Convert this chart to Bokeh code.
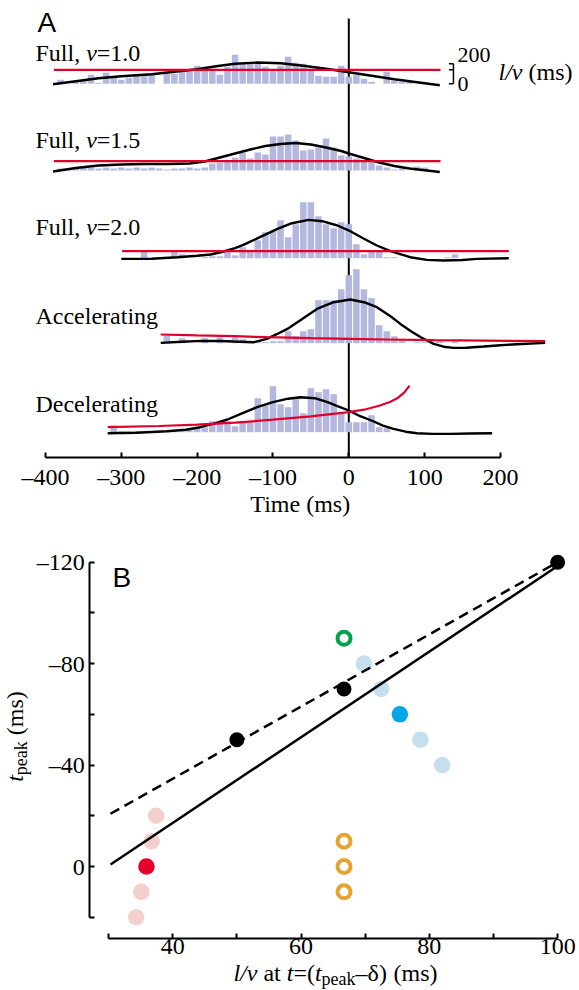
import numpy as np
from bokeh.plotting import figure
from bokeh.models import Range1d, FixedTicker, CustomJSTickFormatter
from bokeh.layouts import column
from bokeh.embed import file_html
from bokeh.resources import INLINE
from bokeh.core.properties import value

SERIF = "Liberation Serif"
SANS = "Liberation Sans"
BAR = "#b5b8de"
RED = "#e1002a"

# ---------------- Panel A data ----------------
bin_width = 10  # ms
hist1_first = -380
hist1 = [4, 0, 2, 4, 9, 1, 11, 6, 4, 6, 10, 10, 10, 0, 12, 10, 12, 13, 18, 17,
         15, 9, 17, 29, 20, 20, 20, 17, 14, 18, 27, 21, 20, 15, 8, 7, 7, 18, 7, 9,
         5, 2, 0, 12, 3, 2, 2]
hist2_first = -380
hist2 = [2, 2, 2, 3, 3, 2, 3, 2, 3, 2, 3, 2, 3, 2, 1, 2, 2, 3, 2,
         3, 7, 8, 10, 13, 18, 12, 18, 16, 34, 34, 36, 30, 20, 21, 23, 32, 23, 15, 14,
         12, 10, 9, 5, 3, 1, 2, 0, 4, 3]
hist3_first = -290
hist3 = [0, 0, 8, 0, 0, 0, 8, 4, 0, 0, 1, 2, 2, 6, 3, 11, 7, 18, 26, 27,
         38, 21, 34, 56, 56, 42, 34, 30, 36, 34, 14, 4, 8, 8, 1, 1, 0, 0, 0, 0,
         0, 0, 1, 4, 0]
hist4_first = -250
hist4 = [0, 8, 0, 5, 0, 0, 5, 0, 6, 0, 6, 4, 2, 2, 1, 2, 2, 12, 7, 12,
         14, 43, 43, 43, 54, 68, 74, 54, 45, 18, 12, 7, 4, 0, 1, 1, 0, 2, 0, 2, 0]
hist5_first = -320
hist5 = [0, 7, 1, 1, 1, 1, 1, 1, 1, 1, 1, 2, 4, 5, 11, 10, 11, 6, 10, 11,
         34, 27, 46, 28, 25, 35, 19, 44, 40, 43, 38, 20, 10, 10, 10, 17, 5, 4, 0]

curve1_t = [-390, -360, -330, -300, -260, -230, -200, -175, -150, -120, -90, -60, -30, 0, 30, 60, 90, 120]
curve1_r = [-0.5, 2.5, 5.5, 7.5, 9.5, 12, 14.5, 17.5, 20, 21.3, 20.5, 18, 15, 11.5, 8, 4.5, 1.5, -1.5]
curve2_t = [-390, -360, -330, -300, -270, -240, -210, -190, -170, -150, -130, -110, -90, -70, -50, -30, -10, 0, 20, 40, 60, 80, 100, 120]
curve2_r = [-1, 2.5, 5, 6, 6.5, 6.5, 7, 9, 13, 17, 21, 24.5, 26.5, 27.5, 26, 23, 19.5, 17, 12.5, 8, 4.5, 2, 0.3, -1.5]
curve3_t = [-300, -260, -226, -200, -182, -165, -150, -139, -120, -94, -75, -53, -35, -15, 2, 20, 37, 55, 70, 81, 103, 125, 150, 169, 211]
curve3_r = [-0.7, -0.5, 1, 2.5, 3.7, 6.7, 10, 13.3, 20, 29.3, 35, 38.3, 37, 32.7, 27, 19.5, 12.7, 7, 3.5, 1, -1.7, -2.3, -1.8, -0.7, 0]
curve4_t = [-248, -220, -195, -170, -152, -125, -108, -95, -81, -60, -42, -20, 2, 20, 37, 55, 68, 82, 95, 112, 125, 138, 155, 178, 200, 222, 259]
curve4_r = [0.3, 1.5, 2.3, 2.2, 1.7, 1, 4.3, 9, 14.3, 25, 34.3, 41, 43.7, 41, 36, 27, 19.3, 12, 6, -0.7, -3.5, -4.7, -4.5, -3.3, -2, -1, 0.3]
curve5_t = [-318, -280, -240, -215, -196, -178, -160, -140, -121, -100, -80, -64, -45, -28, -15, 0, 15, 33, 45, 59, 75, 90, 110, 134, 160, 189]
curve5_r = [-1, -0.5, 1, 2.5, 5, 8.5, 12.7, 19, 25, 30, 33.5, 35, 34, 30, 26, 21.7, 16, 10.7, 6.5, 3.3, 0.5, -1, -1.7, -1.7, -1.3, -1]

# l/v (ms) along each trial
lv1_t = [-389, 121]
lv1 = [140, 140]
lv2_t = [-389, 121]
lv2 = [93.3, 93.3]
lv3_t = [-299, 211]
lv3 = [70, 70]
lv4_t = [-248, -200, -150, -108, -50, 0, 50, 112, 180, 259]
lv4 = [87, 78, 70, 60, 50, 43, 37, 30, 25, 20]
lv5_t = [-318, -250, -200, -150, -100, -50, 0, 20, 40, 55, 65, 73, 80]
lv5 = [50, 62, 75, 95, 125, 158, 200, 225, 265, 305, 345, 395, 465]

row_names = ["Full", "Full", "Full", "Accelerating", "Decelerating"]
row_speeds = ["1.0", "1.5", "2.0", None, None]
time_ticks = [-400, -300, -200, -100, 0, 100, 200]
scalebar_lv = [0, 200]

# ---------------- Panel B data ----------------
black_x = [50, 66.7, 100]
black_y = [-50, -70, -120]
green_x = [66.7]
green_y = [-90]
blue_x = [69.8, 72.5, 78.6, 82.0]
blue_y = [-80, -70, -50, -40]
blue_dark_x = [75.4]
blue_dark_y = [-60]
pink_x = [37.4, 36.7, 35.1, 34.3]
pink_y = [-20, -10, 10, 20]
red_x = [35.9]
red_y = [0]
orange_x = [66.7, 66.7, 66.7]
orange_y = [-10, 0, 10]
fit_solid_x = [30.3, 100]
fit_solid_y = [-0.8, -118.5]
fit_dash_x = [30.3, 100]
fit_dash_y = [-20.8, -120]
bx_ticks = [30, 40, 50, 60, 70, 80, 90, 100]
by_ticks = [-120, -100, -80, -60, -40, -20, 0, 20]

# ---------------- helpers ----------------
W_REG = {' ': 250, '(': 333, ')': 333, '=': 564, '\u2013': 500, '.': 250, ',': 250, '/': 278,
         'A': 722, 'D': 722, 'F': 556, 'T': 611, 'a': 444, 'c': 444, 'e': 444, 'g': 500,
         'i': 278, 'k': 500, 'l': 278, 'm': 778, 'n': 500, 'p': 500, 'r': 333, 's': 389,
         't': 278, 'u': 500, 'v': 500, '\u03b4': 500}
W_ITA = {'l': 278, '/': 278, 'v': 444, 't': 278}
MID_SERIF = 0.3375  # (ascent - descent) / 2, in em: baseline -> em-box middle
MID_SANS = 0.3465


def tw(s, italic, size):
    tab = W_ITA if italic else W_REG
    return sum(tab.get(c, W_REG.get(c, 500)) for c in s) * size / 1000.0


def lead(s, size):
    n = len(s) - len(s.lstrip(" "))
    return n * 250 * size / 1000.0


def style_axis(a):
    a.minor_tick_line_color = None
    a.major_tick_in = 5
    a.major_tick_out = 0
    a.axis_line_width = 2
    a.axis_line_color = "black"
    a.major_tick_line_width = 2
    a.major_tick_line_color = "black"
    a.major_label_text_font = SERIF
    a.major_label_text_font_size = "24px"
    a.major_label_text_color = "black"


# ---------------- Panel A ----------------
A_W, A_H = 579, 525
PXA = 0.7583    # px per ms
T0_PX = 348.3   # page x of t = 0
AXIS_PY = 457   # page y of time axis
pA = figure(width=A_W, height=A_H,
            x_range=Range1d(-T0_PX / PXA, (A_W - T0_PX) / PXA),
            y_range=Range1d(AXIS_PY - A_H, AXIS_PY),
            output_backend="svg", toolbar_location=None, y_axis_location=None,
            min_border_left=0, min_border_right=0, min_border_top=0, min_border_bottom=0)
pA.grid.visible = False
pA.outline_line_color = None
LV_SCALE = 0.1  # plot units per ms of l/v (200 ms scale bar)
row_base = [373.7, 287.0, 199.3, 114.3, 25.3]

pA.segment(x0=[0], y0=[0], x1=[0], y1=[439], line_color="black", line_width=2)

hists = [(hist1_first, hist1), (hist2_first, hist2), (hist3_first, hist3),
         (hist4_first, hist4), (hist5_first, hist5)]
curves = [(curve1_t, curve1_r), (curve2_t, curve2_r), (curve3_t, curve3_r),
          (curve4_t, curve4_r), (curve5_t, curve5_r)]
lvs = [(lv1_t, lv1), (lv2_t, lv2), (lv3_t, lv3), (lv4_t, lv4), (lv5_t, lv5)]

for i in range(5):
    base = row_base[i]
    first, h = hists[i]
    centers = first + bin_width * np.arange(len(h))
    pA.vbar(x=centers, width=8.6, bottom=base, top=base + np.array(h, float),
            fill_color=BAR, line_color=None)
for i in range(5):
    base = row_base[i]
    ct, cr = curves[i]
    pA.line(ct, base + np.array(cr, float), line_color="black", line_width=2.4)
    lt, lv = lvs[i]
    pA.line(lt, base + LV_SCALE * np.array(lv, float), line_color=RED, line_width=2.2)


def a_text(x, y, pieces, font=SERIF, mid=MID_SERIF, align="left"):
    # y is the baseline (plot units, up-positive)
    off = 0.0
    for s, it, size, dy in pieces:
        off += lead(s, size)
        st = s.strip(" ")
        pA.text(x=[x], y=[y + mid * size - dy], text=[st], x_offset=off,
                text_font=value(font), text_font_size=f"{size}px",
                text_font_style="italic" if it else "normal", text_color="black",
                text_baseline="middle", text_align=align)
        off += tw(s.lstrip(" "), it, size)


label_y = [396, 309.3, 222, 133.7, 45.3]
for i in range(5):
    if row_speeds[i] is not None:
        a_text(-413.2, label_y[i], [(row_names[i] + ", ", False, 24, 0), ("v", True, 24, 0),
                                    ("=" + row_speeds[i], False, 24, 0)])
    else:
        a_text(-413.2, label_y[i], [(row_names[i], False, 24, 0)])

a_text(-410.5, 425, [("A", False, 28, 0)], font=SANS, mid=MID_SANS)

# l/v scale bar on the first row
b0 = row_base[0]
sb_lo = b0 + LV_SCALE * scalebar_lv[0]
sb_hi = b0 + LV_SCALE * scalebar_lv[1]
sb_mid = b0 + LV_SCALE * lv1[0]
pA.segment(x0=[138, 132, 132, 132], y0=[sb_lo, sb_lo, sb_hi, sb_mid],
           x1=[138, 138, 138, 138], y1=[sb_hi, sb_lo, sb_hi, sb_mid],
           line_color="black", line_width=1.5)
a_text(143.3, 395, [(str(scalebar_lv[1]), False, 22, 0)])
a_text(143.3, 366, [(str(scalebar_lv[0]), False, 22, 0)])
a_text(197.4, 377, [("l/v", True, 24, 0), (" (ms)", False, 24, 0)])

# axis title of panel A (centred as in the original, baseline at page y 512)
a_text(-64, AXIS_PY - 512, [("Time (ms)", False, 24, 0)], align="center")

ax = pA.xaxis[0]
ax.fixed_location = 0
ax.ticker = FixedTicker(ticks=time_ticks)
ax.bounds = (time_ticks[0], time_ticks[-1])
ax.formatter = CustomJSTickFormatter(code="return tick < 0 ? '\\u2013' + Math.abs(tick) : String(tick);")
style_axis(ax)
ax.major_label_standoff = 6

# ---------------- Panel B ----------------
B_W, B_H = 579, 990 - A_H
BX = 6.415      # px per unit on B's x
BY = 2.536      # px per unit on B's y
X30_PX = 108.1  # page x of x = 30
Y0_PY = 866.0   # page y of y = 0
B_TOP = A_H     # page y of B's top edge
pB = figure(width=B_W, height=B_H,
            x_range=Range1d(30 - X30_PX / BX, 30 + (B_W - X30_PX) / BX),
            y_range=Range1d((B_TOP + B_H - Y0_PY) / BY, (B_TOP - Y0_PY) / BY),
            output_backend="svg", toolbar_location=None,
            min_border_left=0, min_border_right=0, min_border_top=0, min_border_bottom=0)
pB.grid.visible = False
pB.outline_line_color = None

pB.scatter(pink_x, pink_y, size=16.5, fill_color="#f3d0cd", line_color=None)
pB.scatter(red_x, red_y, size=16.5, fill_color="#e4002b", line_color=None)
pB.scatter(blue_x, blue_y, size=16.5, fill_color="#c6dfee", line_color=None)
pB.scatter(blue_dark_x, blue_dark_y, size=16.5, fill_color="#00a6e6", line_color=None)
pB.scatter(green_x, green_y, size=13, fill_color="white", line_color="#00a04e", line_width=4)
pB.scatter(orange_x, orange_y, size=13, fill_color="white", line_color="#e8a22e", line_width=4)
pB.line(fit_solid_x, fit_solid_y, line_color="black", line_width=2.5)
pB.line(fit_dash_x, fit_dash_y, line_color="black", line_width=2.5, line_dash="10 6")
pB.scatter(black_x, black_y, size=15, fill_color="black", line_color=None)

xa = pB.xaxis[0]
xa.fixed_location = (938.3 - Y0_PY) / BY
xa.ticker = FixedTicker(ticks=bx_ticks)
xa.bounds = (bx_ticks[0], bx_ticks[-1])
xa.formatter = CustomJSTickFormatter(code="return (tick % 20 == 0) ? String(tick) : '';")
ya = pB.yaxis[0]
ya.fixed_location = 30 + (89.3 - X30_PX) / BX
ya.ticker = FixedTicker(ticks=by_ticks)
ya.bounds = (by_ticks[0], by_ticks[-1])
ya.formatter = CustomJSTickFormatter(code="if (tick % 40 != 0) return ''; return tick < 0 ? '\\u2013' + Math.abs(tick) : String(tick);")
style_axis(xa)
style_axis(ya)
xa.major_label_standoff = 0
ya.major_label_standoff = 5


def b_text(x, y, s, it, size, angle=0.0, font=SERIF):
    pB.text(x=[x], y=[y], text=[s], angle=angle, text_font=value(font),
            text_font_size=f"{size}px", text_font_style="italic" if it else "normal",
            text_color="black", text_baseline="middle", text_align="left")


# panel letter, baseline at page y 587
b_text(30.6, (587 - MID_SANS * 28 - Y0_PY) / BY, "B", False, 28, font=SANS)

# x title: l/v at t=(t_peak-δ) (ms)
xt_pieces = [("l/v", True, 24, 0), (" at ", False, 24, 0), ("t", True, 24, 0), ("=(", False, 24, 0),
             ("t", True, 24, 0), ("peak", False, 18, 4), ("\u2013\u03b4)", False, 24, 0),
             (" (ms)", False, 24, 0)]
total = sum(tw(s, it, sz) for s, it, sz, dy in xt_pieces)
xc = 30 + (335 - X30_PX) / BX
base_py = 980.5
off = 0.0
for s, it, sz, dy in xt_pieces:
    off += lead(s, sz)
    py = base_py + dy - MID_SERIF * sz
    b_text(xc - total / 2 / BX + off / BX, (py - Y0_PY) / BY, s.strip(" "), it, sz)
    off += tw(s.lstrip(" "), it, sz)

# y title: t_peak (ms), rotated to read upwards; baseline at page x 23
yt_pieces = [("t", True, 24, 0), ("peak", False, 18, 4), (" (ms)", False, 24, 0)]
total = sum(tw(s, it, sz) for s, it, sz, dy in yt_pieces)
ymid = (736 - Y0_PY) / BY
off = 0.0
for s, it, sz, dy in yt_pieces:
    off += lead(s, sz)
    px = 23.0 + dy - MID_SERIF * sz
    b_text(30 + (px - X30_PX) / BX, ymid + total / 2 / BY - off / BY, s.strip(" "), it, sz,
           angle=np.pi / 2)
    off += tw(s.lstrip(" "), it, sz)

layout = column(pA, pB)
open("out.html", "w").write(file_html(layout, INLINE))
